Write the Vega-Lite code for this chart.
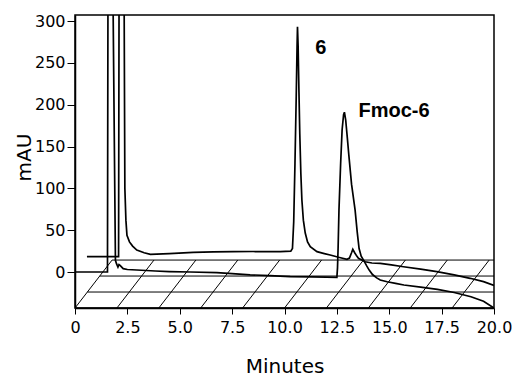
{
  "$schema": "https://vega.github.io/schema/vega-lite/v6.json",
  "width": 419,
  "height": 293,
  "autosize": "none",
  "padding": {"left": 75, "top": 15, "right": 19, "bottom": 69},
  "background": "white",
  "config": {
    "view": {"stroke": "black", "strokeWidth": 1.5},
    "axis": {
      "grid": false,
      "domainColor": "black",
      "domainWidth": 1.5,
      "tickColor": "black",
      "labelColor": "black",
      "titleColor": "black",
      "labelFont": "DejaVu Sans",
      "titleFont": "DejaVu Sans",
      "titleFontWeight": "normal",
      "labelFontSize": 16,
      "titleFontSize": 20,
      "labelFlush": false,
      "labelOverlap": false
    }
  },
  "datasets": {
    "floor": [
      {"x1": 0, "x2": 20, "y1": -43, "y2": -43},
      {"x1": 0.59, "x2": 20, "y1": -23.9, "y2": -23.9},
      {"x1": 1.18, "x2": 20, "y1": -4.8, "y2": -4.8},
      {"x1": 1.77, "x2": 20, "y1": 14.3, "y2": 14.3},
      {"x1": 0, "x2": 1.77, "y1": -43, "y2": 14.3},
      {"x1": 2, "x2": 3.77, "y1": -43, "y2": 14.3},
      {"x1": 4, "x2": 5.77, "y1": -43, "y2": 14.3},
      {"x1": 6, "x2": 7.77, "y1": -43, "y2": 14.3},
      {"x1": 8, "x2": 9.77, "y1": -43, "y2": 14.3},
      {"x1": 10, "x2": 11.77, "y1": -43, "y2": 14.3},
      {"x1": 12, "x2": 13.77, "y1": -43, "y2": 14.3},
      {"x1": 14, "x2": 15.77, "y1": -43, "y2": 14.3},
      {"x1": 16, "x2": 17.77, "y1": -43, "y2": 14.3},
      {"x1": 18, "x2": 19.77, "y1": -43, "y2": 14.3}
    ],
    "trace": [
      {"s": "front", "i": 1, "t": 0, "v": 0},
      {"s": "front", "i": 2, "t": 1.55, "v": 0},
      {"s": "front", "i": 3, "t": 1.58, "v": 420},
      {"s": "front", "i": 4, "t": 1.78, "v": 420},
      {"s": "front", "i": 5, "t": 1.93, "v": 14},
      {"s": "front", "i": 6, "t": 1.98, "v": 10},
      {"s": "front", "i": 7, "t": 2.05, "v": 6},
      {"s": "front", "i": 8, "t": 2.1, "v": 9},
      {"s": "front", "i": 9, "t": 2.15, "v": 8},
      {"s": "front", "i": 10, "t": 2.3, "v": 4},
      {"s": "front", "i": 11, "t": 2.5, "v": 3},
      {"s": "front", "i": 12, "t": 2.95, "v": 2.4},
      {"s": "front", "i": 13, "t": 3.4, "v": 1.8},
      {"s": "front", "i": 14, "t": 3.83, "v": 1.2},
      {"s": "front", "i": 15, "t": 4.5, "v": 0.5},
      {"s": "front", "i": 16, "t": 5.5, "v": 0},
      {"s": "front", "i": 17, "t": 6.77, "v": -0.8},
      {"s": "front", "i": 18, "t": 7.5, "v": -1.8},
      {"s": "front", "i": 19, "t": 8.36, "v": -3.4},
      {"s": "front", "i": 20, "t": 9.3, "v": -4.2},
      {"s": "front", "i": 21, "t": 10.27, "v": -5.4},
      {"s": "front", "i": 22, "t": 11.3, "v": -5.8},
      {"s": "front", "i": 23, "t": 12.0, "v": -6.2},
      {"s": "front", "i": 24, "t": 12.5, "v": -6.4},
      {"s": "front", "i": 25, "t": 12.53, "v": 5},
      {"s": "front", "i": 26, "t": 12.56, "v": 30},
      {"s": "front", "i": 27, "t": 12.6, "v": 74},
      {"s": "front", "i": 28, "t": 12.68, "v": 130},
      {"s": "front", "i": 29, "t": 12.75, "v": 170},
      {"s": "front", "i": 30, "t": 12.82, "v": 188},
      {"s": "front", "i": 31, "t": 12.86, "v": 191},
      {"s": "front", "i": 32, "t": 12.92, "v": 182},
      {"s": "front", "i": 33, "t": 13.0, "v": 160},
      {"s": "front", "i": 34, "t": 13.07, "v": 140},
      {"s": "front", "i": 35, "t": 13.2, "v": 105},
      {"s": "front", "i": 36, "t": 13.37, "v": 74},
      {"s": "front", "i": 37, "t": 13.47, "v": 48},
      {"s": "front", "i": 38, "t": 13.56, "v": 28},
      {"s": "front", "i": 39, "t": 13.66, "v": 19},
      {"s": "front", "i": 40, "t": 13.8, "v": 13},
      {"s": "front", "i": 41, "t": 13.93, "v": 7},
      {"s": "front", "i": 42, "t": 14.05, "v": 2},
      {"s": "front", "i": 43, "t": 14.2, "v": -3},
      {"s": "front", "i": 44, "t": 14.4, "v": -7},
      {"s": "front", "i": 45, "t": 14.57, "v": -9.5},
      {"s": "front", "i": 46, "t": 14.9, "v": -11.6},
      {"s": "front", "i": 47, "t": 15.3, "v": -13.5},
      {"s": "front", "i": 48, "t": 15.7, "v": -15.5},
      {"s": "front", "i": 49, "t": 16.5, "v": -18},
      {"s": "front", "i": 50, "t": 17.3, "v": -20.7},
      {"s": "front", "i": 51, "t": 18.1, "v": -24.5},
      {"s": "front", "i": 52, "t": 18.9, "v": -29.6},
      {"s": "front", "i": 53, "t": 19.5, "v": -35},
      {"s": "front", "i": 54, "t": 20.0, "v": -43},
      {"s": "back", "i": 1, "t": 0.57, "v": 18.3},
      {"s": "back", "i": 2, "t": 2.08, "v": 18.3},
      {"s": "back", "i": 3, "t": 2.11, "v": 420},
      {"s": "back", "i": 4, "t": 2.33, "v": 420},
      {"s": "back", "i": 5, "t": 2.38, "v": 100},
      {"s": "back", "i": 6, "t": 2.43, "v": 62},
      {"s": "back", "i": 7, "t": 2.48, "v": 44},
      {"s": "back", "i": 8, "t": 2.6, "v": 36},
      {"s": "back", "i": 9, "t": 2.75, "v": 31},
      {"s": "back", "i": 10, "t": 2.95, "v": 26.3},
      {"s": "back", "i": 11, "t": 3.3, "v": 23},
      {"s": "back", "i": 12, "t": 3.6, "v": 21.2},
      {"s": "back", "i": 13, "t": 4.5, "v": 22},
      {"s": "back", "i": 14, "t": 5.64, "v": 23.5},
      {"s": "back", "i": 15, "t": 6.6, "v": 24},
      {"s": "back", "i": 16, "t": 7.55, "v": 24.3},
      {"s": "back", "i": 17, "t": 8.5, "v": 24.5},
      {"s": "back", "i": 18, "t": 9.8, "v": 24.3},
      {"s": "back", "i": 19, "t": 10.3, "v": 25},
      {"s": "back", "i": 20, "t": 10.38, "v": 28},
      {"s": "back", "i": 21, "t": 10.44, "v": 60},
      {"s": "back", "i": 22, "t": 10.5, "v": 130},
      {"s": "back", "i": 23, "t": 10.56, "v": 210},
      {"s": "back", "i": 24, "t": 10.6, "v": 270},
      {"s": "back", "i": 25, "t": 10.62, "v": 293},
      {"s": "back", "i": 26, "t": 10.65, "v": 270},
      {"s": "back", "i": 27, "t": 10.69, "v": 215},
      {"s": "back", "i": 28, "t": 10.73, "v": 165},
      {"s": "back", "i": 29, "t": 10.78, "v": 118},
      {"s": "back", "i": 30, "t": 10.83, "v": 86},
      {"s": "back", "i": 31, "t": 10.9, "v": 62},
      {"s": "back", "i": 32, "t": 10.99, "v": 46.6},
      {"s": "back", "i": 33, "t": 11.1, "v": 36},
      {"s": "back", "i": 34, "t": 11.23, "v": 30.2},
      {"s": "back", "i": 35, "t": 11.55, "v": 24.3},
      {"s": "back", "i": 36, "t": 11.9, "v": 22},
      {"s": "back", "i": 37, "t": 12.18, "v": 20.3},
      {"s": "back", "i": 38, "t": 12.58, "v": 17.6},
      {"s": "back", "i": 39, "t": 12.98, "v": 15.2},
      {"s": "back", "i": 40, "t": 13.1, "v": 16.7},
      {"s": "back", "i": 41, "t": 13.2, "v": 23},
      {"s": "back", "i": 42, "t": 13.26, "v": 27.1},
      {"s": "back", "i": 43, "t": 13.35, "v": 23},
      {"s": "back", "i": 44, "t": 13.45, "v": 19},
      {"s": "back", "i": 45, "t": 13.53, "v": 16.4},
      {"s": "back", "i": 46, "t": 13.85, "v": 12.3},
      {"s": "back", "i": 47, "t": 14.17, "v": 10.8},
      {"s": "back", "i": 48, "t": 14.57, "v": 10.4},
      {"s": "back", "i": 49, "t": 15.1, "v": 8.5},
      {"s": "back", "i": 50, "t": 15.68, "v": 6.3},
      {"s": "back", "i": 51, "t": 16.5, "v": 3.5},
      {"s": "back", "i": 52, "t": 17.27, "v": 0.4},
      {"s": "back", "i": 53, "t": 18.1, "v": -3.5},
      {"s": "back", "i": 54, "t": 18.86, "v": -7.5},
      {"s": "back", "i": 55, "t": 19.5, "v": -11.5},
      {"s": "back", "i": 56, "t": 20.0, "v": -16}
    ],
    "labels": [
      {"t": 11.47, "v": 268, "text": "6"},
      {"t": 13.53, "v": 192.7, "text": "Fmoc-6"}
    ]
  },
  "layer": [
    {
      "data": {"name": "floor"},
      "mark": {"type": "rule", "color": "black", "strokeWidth": 1, "clip": true},
      "encoding": {
        "x": {
          "field": "x1", "type": "quantitative", "title": "Minutes",
          "scale": {"domain": [0, 20], "nice": false, "zero": false},
          "axis": {
            "values": [0, 2.5, 5, 7.5, 10, 12.5, 15, 17.5, 20],
            "labelExpr": "datum.value == 0 ? '0' : format(datum.value, '.1f')",
            "tickSize": 6, "labelPadding": 5,
            "titleY": 64, "titleBaseline": "alphabetic"
          }
        },
        "x2": {"field": "x2"},
        "y": {
          "field": "y1", "type": "quantitative", "title": "mAU",
          "scale": {"domain": [-43, 307.2], "nice": false, "zero": false},
          "axis": {
            "values": [0, 50, 100, 150, 200, 250, 300],
            "tickSize": 8, "labelPadding": 2,
            "titleX": -45, "titleY": 142, "titleBaseline": "alphabetic", "titleAlign": "center", "titleAngle": 270
          }
        },
        "y2": {"field": "y2"}
      }
    },
    {
      "data": {"name": "trace"},
      "mark": {"type": "line", "color": "black", "strokeWidth": 1.7, "clip": true},
      "encoding": {
        "x": {"field": "t", "type": "quantitative", "title": "Minutes"},
        "y": {"field": "v", "type": "quantitative", "title": "mAU"},
        "detail": {"field": "s"},
        "order": {"field": "i", "type": "quantitative"}
      }
    },
    {
      "data": {"name": "labels"},
      "mark": {"type": "text", "font": "Liberation Sans", "fontWeight": "bold", "fontSize": 20, "baseline": "middle", "align": "left", "color": "black"},
      "encoding": {
        "x": {"field": "t", "type": "quantitative", "title": "Minutes"},
        "y": {"field": "v", "type": "quantitative", "title": "mAU"},
        "text": {"field": "text"}
      }
    }
  ]
}
